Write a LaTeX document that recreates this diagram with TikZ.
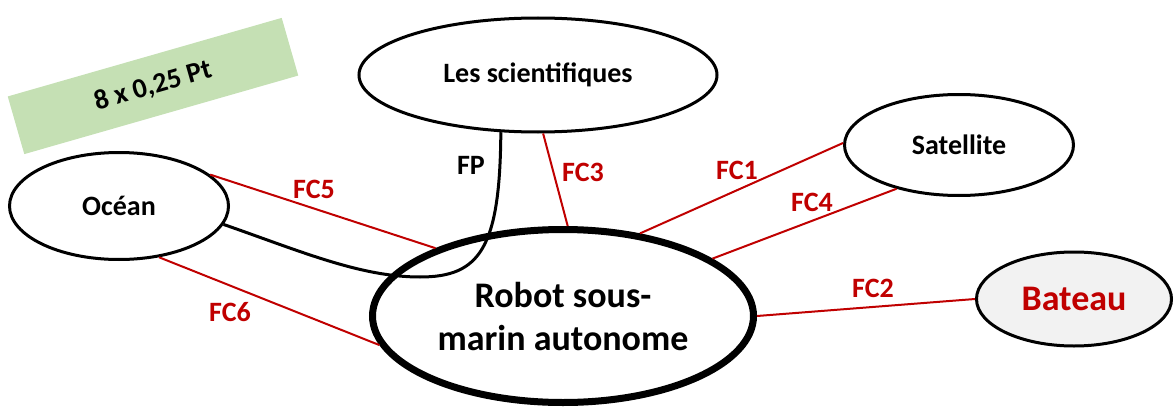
\documentclass[tikz,border=0pt]{standalone}
\usepackage{fontspec}
\setmainfont{Carlito}
\usepackage{tikz}
\tikzset{>=latex}
\definecolor{fcred}{HTML}{C00000}
\definecolor{notegreen}{HTML}{C5E0B4}
\definecolor{boatgrey}{HTML}{F2F2F2}
\tikzset{
  actor/.style={ellipse, draw, line width=3pt, inner sep=0pt, font=\bfseries\fontsize{28}{34}\selectfont},
  fcline/.style={fcred, line width=2pt},
  fclabel/.style={text=fcred, font=\bfseries\fontsize{28}{34}\selectfont},
}
\usetikzlibrary{shapes.geometric}

\begin{document}
\begin{tikzpicture}[x=1pt, y=1pt]
            \useasboundingbox (0, 0) rectangle (1175, 408);
            \node[fill=notegreen, rotate=16, minimum width=285, minimum height=60, font=\bfseries\fontsize{28}{34}\selectfont] (note) at (153, 322) {8 x 0,25 Pt};
            \node[actor, minimum width=358, minimum height=114] (sci) at (538, 333) {Les scientifiques};
            \node[actor, minimum width=229, minimum height=101] (sat) at (959, 263) {Satellite};
            \node[actor, minimum width=219, minimum height=107] (ocean) at (119, 202) {Océan};
            \node[actor, line width=7pt, minimum width=381, minimum height=173, align=center, font=\bfseries\fontsize{36}{43}\selectfont] (robot) at (563, 92) {Robot sous-\\marin autonome};
            \node[actor, fill=boatgrey, text=fcred, minimum width=195, minimum height=94, font=\bfseries\fontsize{36}{43}\selectfont] (bateau) at (1074, 109) {Bateau};
            % fonction principale
            \coordinate (fploop) at (420, 131);
            \draw[line width=3pt] (sci.237) .. controls (500, 160) and (480, 131) .. (fploop) .. controls (360, 131) and (300, 157) .. (ocean.350);
            \node[font=\bfseries\fontsize{28}{34}\selectfont] (fp) at (471, 243) {FP};
            % fonctions contraintes
            \draw[fcline] (sat.179) -- (robot.47);
            \draw[fcline] (bateau.180) -- (robot.0);
            \draw[fcline] (sci.275) -- (robot.87);
            \draw[fcline] (sat.215) -- (robot.21);
            \draw[fcline] (ocean.19) -- (robot.152);
            \draw[fcline] (ocean.308) -- (robot.189);
            \node[fclabel] (fc1) at (737, 238) {FC1};
            \node[fclabel] (fc2) at (873, 120) {FC2};
            \node[fclabel] (fc3) at (583, 236) {FC3};
            \node[fclabel] (fc4) at (812, 206) {FC4};
            \node[fclabel] (fc5) at (314, 219) {FC5};
            \node[fclabel] (fc6) at (230, 96) {FC6};
        \end{tikzpicture}
\end{document}
